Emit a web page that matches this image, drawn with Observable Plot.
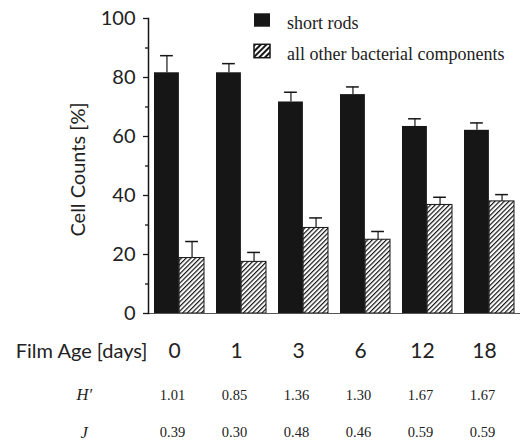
<!DOCTYPE html>
<html><head><meta charset="utf-8">
<script src="https://cdn.jsdelivr.net/npm/d3@7"></script>
<script src="https://cdn.jsdelivr.net/npm/@observablehq/plot@0.6"></script>
<style>
html,body{margin:0;padding:0;background:#fff}
#wrap{position:relative;width:520px;height:446px;overflow:hidden}
#legend{position:absolute;left:0;top:0}
</style></head><body>
<div id="wrap"><div id="chart"></div><svg id="legend" width="520" height="70"></svg></div>
<script>
// ---- data ----
const ages = ["0", "1", "3", "6", "12", "18"];
const shortRods = [81.6, 81.6, 71.7, 74.2, 63.4, 62.1];
const shortRodsErr = [5.8, 3.1, 3.3, 2.6, 2.6, 2.5];
const otherComponents = [18.8, 17.5, 29.0, 25.0, 36.8, 38.0];
const otherErr = [5.6, 3.2, 3.4, 2.8, 2.6, 2.3];
const hPrime = ["1.01", "0.85", "1.36", "1.30", "1.67", "1.67"];
const evenness = ["0.39", "0.30", "0.48", "0.46", "0.59", "0.59"];
const yTicks = [0, 20, 40, 60, 80, 100];
const yMinorTicks = [10, 30, 50, 70, 90];
const seriesNames = ["short rods", "all other bacterial components"];

const rods = ages.map((a, i) => ({age: a, value: shortRods[i], err: shortRodsErr[i]}));
const others = ages.map((a, i) => ({age: a, value: otherComponents[i], err: otherErr[i]}));

const W = 520, H = 446, mL = 148, mR = 0, mT = 18, mB = 133;
const padIn = 0.19, padOut = 0.095;
const step = (W - mL - mR) / (ages.length - padIn + 2 * padOut);
const bw = step * (1 - padIn);
const half = bw / 2, quarter = bw / 4, capW = 13;
const sans = "Lato, 'Liberation Sans', sans-serif";
const serif = "'Liberation Serif', 'DejaVu Serif', serif";
const ink = "#161616";
const textInk = "#222";

const chart = Plot.plot({
  width: W, height: H,
  marginLeft: mL, marginRight: mR, marginTop: mT, marginBottom: mB,
  style: {fontFamily: sans, color: ink, background: "#fff"},
  x: {type: "band", domain: ages, paddingInner: padIn, paddingOuter: padOut, axis: null},
  y: {domain: [0, 100], axis: null},
  marks: [
    Plot.barY(rods, {x: "age", y: "value", fill: ink, insetLeft: 0, insetRight: half}),
    Plot.barY(others, {x: "age", y: "value", fill: "url(#hatch)", stroke: ink, strokeWidth: 1, insetLeft: half, insetRight: 0}),
    Plot.ruleX(rods, {x: "age", y1: "value", y2: d => d.value + d.err, dx: -quarter, stroke: ink, strokeWidth: 1.2}),
    Plot.tickY(rods, {x: "age", y: d => d.value + d.err, dx: -quarter, insetLeft: (bw - capW) / 2, insetRight: (bw - capW) / 2, stroke: ink, strokeWidth: 1.5}),
    Plot.ruleX(others, {x: "age", y1: "value", y2: d => d.value + d.err, dx: quarter, stroke: ink, strokeWidth: 1.2}),
    Plot.tickY(others, {x: "age", y: d => d.value + d.err, dx: quarter, insetLeft: (bw - capW) / 2, insetRight: (bw - capW) / 2, stroke: ink, strokeWidth: 1.5}),
    Plot.ruleY([0], {stroke: "#555", strokeWidth: 1.2}),
    Plot.frame({anchor: "left", stroke: ink, strokeWidth: 1.5}),
    Plot.axisY({ticks: yTicks, tickSize: 5, tickPadding: 8, fontSize: 20, fontFamily: sans, fill: textInk, stroke: ink, strokeWidth: 1.3, label: null}),
    Plot.axisY({ticks: yMinorTicks, tickSize: 3, tickFormat: () => "", stroke: ink, strokeWidth: 1.3, label: null}),
    Plot.text(["Cell Counts [%]"], {frameAnchor: "left", textAnchor: "middle", lineAnchor: "middle", rotate: -90, dx: -70, dy: 3.5, fontSize: 20, fontFamily: sans, fill: textInk, ariaLabel: "ylabel"}),
    // age labels
    Plot.text(ages, {x: d => d, text: d => d, frameAnchor: "bottom", lineAnchor: "top", dy: 30, dx: -5, fontSize: 21, fontFamily: sans, fill: textInk}),
    Plot.text(["Film Age [days]"], {frameAnchor: "bottom-left", textAnchor: "end", lineAnchor: "top", dx: -1, dy: 30, fontSize: 20, fontFamily: sans, fill: textInk, ariaLabel: "agelabel"}),
    // H' row
    Plot.text(ages, {x: d => d, text: d => hPrime[ages.indexOf(d)], frameAnchor: "bottom", lineAnchor: "top", dy: 76, dx: -7, fontSize: 14.5, fontFamily: serif, fill: textInk, ariaLabel: "hrow"}),
    Plot.text(["H\u2032"], {frameAnchor: "bottom-left", textAnchor: "start", lineAnchor: "top", dx: -72, dy: 75, fontSize: 16.5, fontStyle: "italic", fontFamily: serif, fill: textInk}),
    // J row
    Plot.text(ages, {x: d => d, text: d => evenness[ages.indexOf(d)], frameAnchor: "bottom", lineAnchor: "top", dy: 113, dx: -7, fontSize: 14.5, fontFamily: serif, fill: textInk, ariaLabel: "jrow"}),
    Plot.text(["J"], {frameAnchor: "bottom-left", textAnchor: "start", lineAnchor: "top", dx: -68, dy: 113, fontSize: 16.5, fontStyle: "italic", fontFamily: serif, fill: textInk})
  ]
});

// letter spacing tweaks
d3.select(chart).selectAll('g[aria-label="hrow"] text, g[aria-label="jrow"] text').style("letter-spacing", "1px");
d3.select(chart).selectAll('g[aria-label="agelabel"] text').style("letter-spacing", "1.2px");
d3.select(chart).selectAll('g[aria-label="ylabel"] text').style("letter-spacing", "1px");

// hatch pattern definition
const defs = d3.select(chart).insert("defs", ":first-child");
const pat = defs.append("pattern").attr("id", "hatch").attr("patternUnits", "userSpaceOnUse")
  .attr("width", 3.3).attr("height", 3.3).attr("patternTransform", "rotate(45)");
pat.append("rect").attr("width", 3.3).attr("height", 3.3).attr("fill", "#fff");
pat.append("line").attr("x1", 0.6).attr("y1", 0).attr("x2", 0.6).attr("y2", 3.3).attr("stroke", ink).attr("stroke-width", 1.2);
document.getElementById("chart").appendChild(chart);

// legend overlay
const lg = d3.select("#legend");
const ldefs = lg.append("defs");
const lp = ldefs.append("pattern").attr("id", "hatchL").attr("patternUnits", "userSpaceOnUse")
  .attr("width", 4).attr("height", 4).attr("patternTransform", "rotate(45)");
lp.append("rect").attr("width", 4).attr("height", 4).attr("fill", "#fff");
lp.append("line").attr("x1", 1).attr("y1", 0).attr("x2", 1).attr("y2", 4).attr("stroke", ink).attr("stroke-width", 2);
const rowsL = lg.selectAll("g").data(seriesNames).join("g")
  .attr("transform", (d, i) => `translate(254,${13.3 + i * 31})`);
rowsL.append("rect").attr("width", 16).attr("height", 13.4)
  .attr("fill", (d, i) => i === 0 ? ink : "url(#hatchL)")
  .attr("stroke", ink).attr("stroke-width", (d, i) => i === 0 ? 0 : 1.5);
rowsL.append("text").attr("x", 33).attr("y", 15.5).text(d => d)
  .attr("font-family", serif).attr("font-size", 18).attr("fill", textInk);
</script>
</body></html>
